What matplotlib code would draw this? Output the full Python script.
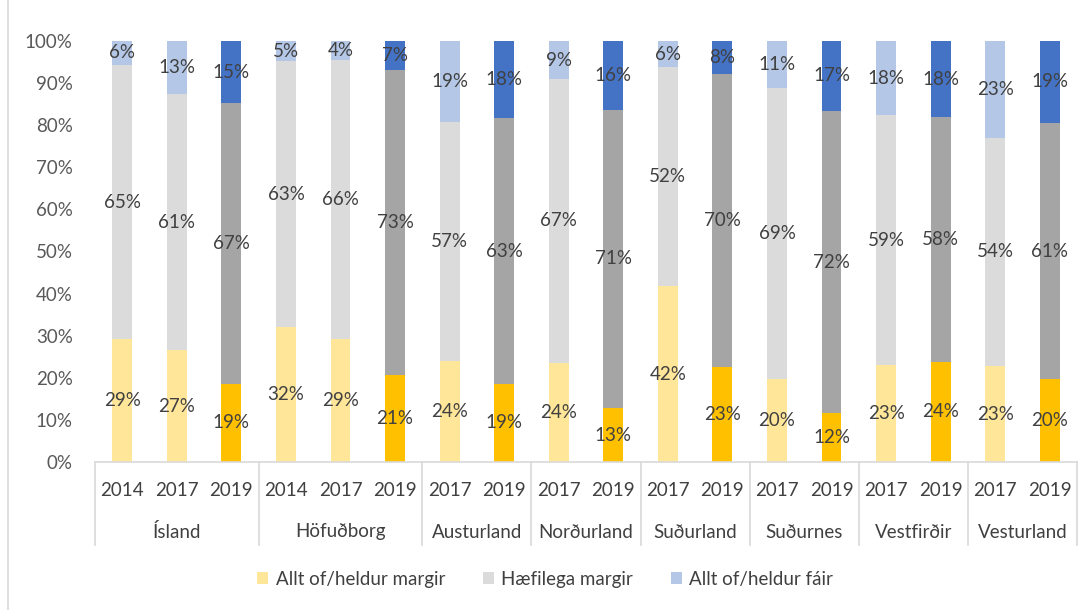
import matplotlib
matplotlib.use("Agg")
import matplotlib.pyplot as plt
from matplotlib.patches import Patch
import matplotlib.transforms as mtrans
from matplotlib.lines import Line2D

plt.rcParams['font.family'] = ['Lato', 'DejaVu Sans']

groups = ["Ísland", "Höfuðborg", "Austurland", "Norðurland", "Suðurland",
          "Suðurnes", "Vestfirðir", "Vesturland"]
group_years = [["2014", "2017", "2019"], ["2014", "2017", "2019"],
               ["2017", "2019"], ["2017", "2019"], ["2017", "2019"],
               ["2017", "2019"], ["2017", "2019"], ["2017", "2019"]]

allt_margir = [29.1, 26.6, 18.6, 32.0, 29.2, 20.6, 24.0, 18.6, 23.6, 12.8,
               41.8, 22.6, 19.7, 11.6, 23.0, 23.8, 22.8, 19.6]
haefilega = [65.2, 60.8, 66.6, 63.2, 66.4, 72.6, 56.8, 63.0, 67.3, 70.9,
             52.0, 69.6, 69.1, 71.8, 59.4, 58.1, 54.2, 61.0]
allt_fair = [5.7, 12.6, 14.8, 4.8, 4.4, 6.8, 19.2, 18.4, 9.1, 16.3,
             6.2, 7.8, 11.2, 16.6, 17.6, 18.1, 23.0, 19.4]

series_names = ["Allt of/heldur margir", "Hæfilega margir", "Allt of/heldur fáir"]
light_colors = ["#FFE699", "#DBDBDB", "#B4C7E7"]
dark_colors = ["#FFC000", "#A5A5A5", "#4472C4"]
text_color = "#404040"
axis_color = "#D9D9D9"
fs = 13.5

years = [y for ys in group_years for y in ys]
n = len(years)
xs = list(range(n))

W, H = 1091, 610
fig = plt.figure(figsize=(W / 100, H / 100), dpi=100)
ax = fig.add_axes([95 / W, (H - 462) / H, 982 / W, 421 / H])

series = [allt_margir, haefilega, allt_fair]
bottoms = [0.0] * n
bw = 0.366
for si, vals in enumerate(series):
    cols = [dark_colors[si] if y == "2019" else light_colors[si] for y in years]
    ax.bar(xs, vals, bw, bottom=bottoms, color=cols, edgecolor='none', zorder=2)
    for i, v in enumerate(vals):
        ax.text(xs[i], bottoms[i] + v / 2, f"{round(v)}%", ha='center', va='center',
                fontsize=fs, color=text_color, zorder=3)
    bottoms = [b + v for b, v in zip(bottoms, vals)]

ax.set_xlim(-0.5, n - 0.5)
ax.set_ylim(0, 100)
ax.set_yticks(range(0, 101, 10))
ax.set_yticklabels([f"{t}%" for t in range(0, 101, 10)], fontsize=fs, color="#595959")
ax.tick_params(axis='y', length=0, pad=16)
ax.set_xticks([])
for s in ['top', 'right', 'left']:
    ax.spines[s].set_visible(False)
ax.spines['bottom'].set_color(axis_color)
ax.spines['bottom'].set_linewidth(1.2)

# multi-level category axis
trans = mtrans.blended_transform_factory(ax.transData, ax.transAxes)
pix = 421.0
year_y = -(490 - 462) / pix
group_y = -(532 - 462) / pix
sep_bottom = -(545 - 462) / pix
for i, y in enumerate(years):
    ax.text(xs[i], year_y, y, transform=trans, ha='center', va='center',
            fontsize=fs, color=text_color)
start = 0
bounds = [-0.5]
for g, ys in zip(groups, group_years):
    end = start + len(ys)
    ax.text((start + end - 1) / 2, group_y, g, transform=trans, ha='center',
            va='center', fontsize=fs, color=text_color)
    bounds.append(end - 0.5)
    start = end
for b in bounds:
    ax.plot([b, b], [0, sep_bottom], transform=trans, color=axis_color,
            lw=1.2, clip_on=False)

# legend
handles = [Patch(facecolor=c, edgecolor='none') for c in light_colors]
fig.legend(handles, series_names, loc='center', bbox_to_anchor=(545 / W, 1 - 579 / H),
           ncol=3, frameon=False, fontsize=fs, labelcolor=text_color,
           handlelength=0.6, handleheight=0.6, handletextpad=0.4, columnspacing=2.0)

# outer frame line on the left
fig.add_artist(Line2D([8 / W, 8 / W], [0, 1], transform=fig.transFigure,
                      color=axis_color, lw=1.2))

fig.savefig("out.png", dpi=100, facecolor='white')
